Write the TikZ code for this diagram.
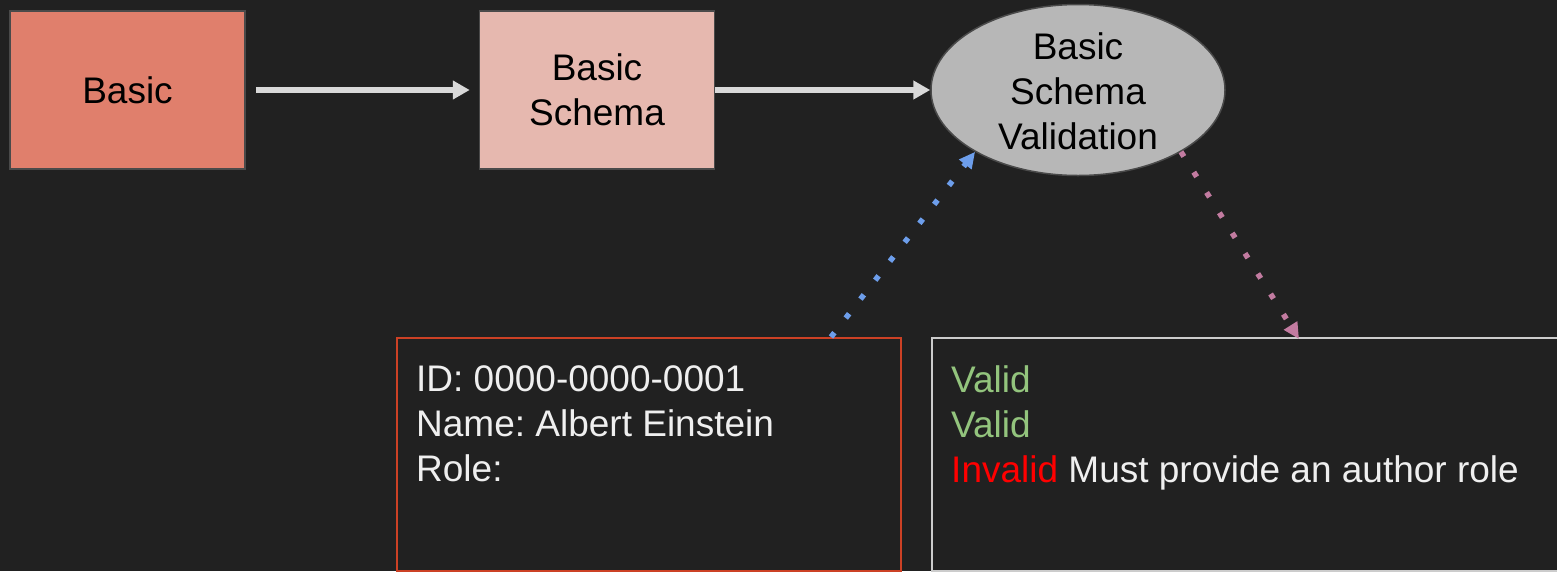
\documentclass[tikz,border=0pt]{standalone}
\usepackage{fontspec}
\setmainfont{Liberation Sans}
\frenchspacing
\usetikzlibrary{arrows.meta,shapes.geometric,calc}

\definecolor{canvas}{HTML}{212121}
\definecolor{basicfill}{HTML}{E07F6C}
\definecolor{schemafill}{HTML}{E6B8AF}
\definecolor{ovalfill}{HTML}{B7B7B7}
\definecolor{edgegrey}{HTML}{4A4A4A}
\definecolor{flowgrey}{HTML}{D9D9D9}
\definecolor{inblue}{HTML}{6D9EEB}
\definecolor{outpink}{HTML}{C27BA0}
\definecolor{recordred}{HTML}{CC4125}
\definecolor{resultgrey}{HTML}{CCCCCC}
\definecolor{lighttext}{HTML}{EFEFEF}
\definecolor{okgreen}{HTML}{93C47D}
\definecolor{badred}{HTML}{FF0000}

\tikzset{
  bigfont/.style={font=\fontsize{37}{45}\selectfont},
  stagebox/.style={draw=edgegrey, line width=1.5pt, minimum width=235pt,
    minimum height=158pt, inner sep=0pt, align=center, text=black, bigfont},
  oval/.style={ellipse, draw=edgegrey, line width=1.5pt, fill=ovalfill,
    minimum width=294pt, minimum height=171pt, inner sep=0pt},
  flow/.style={draw=flowgrey, line width=6pt,
    -{Triangle[length=17pt,width=18pt]}},
  dotlink/.style={line width=5.5pt, dash pattern=on 5.5pt off 18.5pt,
    -{Triangle[length=16pt,width=15pt]}},
  panel/.style={line width=2pt, minimum height=233pt, anchor=north west,
    inner sep=0pt},
  paneltext/.style={anchor=north west, inner sep=0pt, align=left,
    text=lighttext, bigfont},
}

\begin{document}
\begin{tikzpicture}[x=1pt, y=-1pt]
  \fill[canvas] (0,0) rectangle (1557,571);
  \useasboundingbox (0,0) rectangle (1557,571);

  % pipeline stages
  \node[stagebox, fill=basicfill] (basic) at (127.5,90) {Basic};
  \node[stagebox, fill=schemafill] (schema) at (597,90) {Basic\\Schema};
  \node[oval] (check) at (1078,90) {};
  \node[bigfont, align=center, text=black] (checklabel) at (1078,91)
    {Basic\\Schema\\Validation};

  \draw[flow] ($(basic.east)+(10,0)$) -- ($(schema.west)+(-9,0)$);
  \draw[flow] (schema.east) -- (check.west);

  % input record and validation result panels
  \node[panel, draw=recordred, minimum width=504pt] (record) at (396,337) {};
  \node[panel, draw=resultgrey, minimum width=640pt] (result) at (931,337) {};

  \node[paneltext] (recordtext) at (416,365)
    {ID: 0000-0000-0001\\Name: Albert Einstein\\Role:};
  \node[paneltext] (resulttext) at (951,365)
    {\textcolor{okgreen}{Valid}\\\textcolor{okgreen}{Valid}\\
     \textcolor{badred}{Invalid} Must provide an author role};

  % data flowing into and out of the validator
  \coordinate (recordtap) at ($(record.north west)+(435,0)$);
  \coordinate (resulttap) at ($(result.north west)+(368,2)$);
  \draw[dotlink, draw=inblue] (recordtap) -- (check.211);
  \draw[dotlink, draw=outpink] (check.-31) -- (resulttap);
\end{tikzpicture}
\end{document}
